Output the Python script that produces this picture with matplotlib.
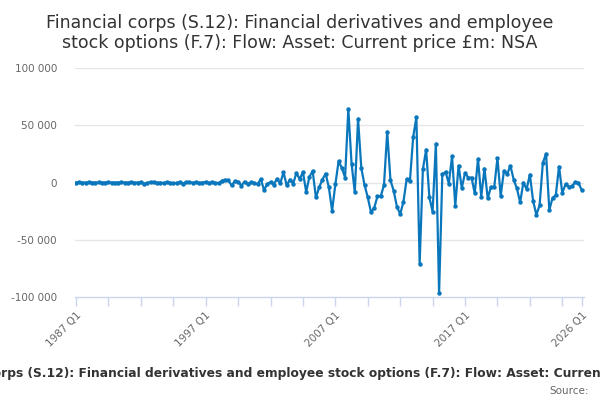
import matplotlib
matplotlib.use("Agg")
import matplotlib.pyplot as plt

#### DATA ####

title = ("Financial corps (S.12): Financial derivatives and employee\n"
         "stock options (F.7): Flow: Asset: Current price £m: NSA")
caption = ("Financial corps (S.12): Financial derivatives and employee stock options "
           "(F.7): Flow: Asset: Current price £m: NSA")

quarters = [f"{1987 + i // 4} Q{i % 4 + 1}" for i in range(157)]

values = [
    # 1987 Q1 - 1992 Q1
    0, 50, 0, -50, 50, 0, 0, 50, -50, 0, 50, 0, -50, 0, 50, 0, 0, 50, -50, 0, 100,
    # 1992 Q2 - 2003 Q2
    -1200, -300, 500, 300, -200, 0, -500, 400, -300, -800, -300, 200, -1000, 400, 300,
    -200, 200, -300, 0, 500, -400, 300, -200, -600, 1500, 2400, 1800, -2600, 1200, 800,
    -2700, 800, -1500, 300, -400, -1500, 3000, -6500, -1500, 500, -1800, 3200, -800, 8900, -2500,
    # 2003 Q3 - 2015 Q1
    2600, -900, 8300, 2900, 9200, -8200, 4900, 10100, -13000, -4300, 2600, 7800, -4300,
    -24600, -1700, 18500, 12700, 4300, 63800, 16500, -8700, 55500, 12700, -2100, -13000,
    -26000, -22000, -11900, -11900, -2300, 44200, 2000, -7300, -21200, -27500, -16800,
    2900, 1100, 39500, 56900, -70900, 11500, 28600, -13000, -25500, 33800, -96300,
    # 2015 Q2 - 2026 Q1
    7200, 9200, -900, 22800, -20300, 14700, -4700, 8300, 4300, 4300, -9500, 20500, -12500,
    12100, -13900, -3800, -4300, 21300, -11600, 10100, 7200, 14700, 2600, -5200, -17300,
    0, -5800, 6900, -16000, -28100, -19900, 17000, 25100, -24000, -13400, -11000, 13900,
    -9000, -1700, -3800, -3200, 500, -300, -6700,
]

ytick_values = [-100000, -50000, 0, 50000, 100000]
ytick_labels = ["-100 000", "-50 000", "0", "50 000", "100 000"]

#### PLOT ####

fig = plt.figure(figsize=(6, 4), dpi=100)
ax = fig.add_axes([75 / 600, 1 - 297.3 / 400, 509 / 600, 229.6 / 400])

x = list(range(len(values)))
ax.plot(x, values, color="#0a77bd", lw=1.6, marker="o", markersize=3.2,
        markeredgewidth=0, zorder=3)

ax.set_ylim(-100000, 100000)
ax.set_xlim(-0.31, 156.7)

ax.set_yticks(ytick_values)
ax.set_yticklabels(ytick_labels)
for v in ytick_values[1:]:
    ax.axhline(v, color="#e6e6e6", lw=1, zorder=1)

major = [0, 40, 80, 120, 156]
minor = [i for i in range(0, 151, 10) if i not in major]
ax.set_xticks(major)
ax.set_xticklabels([quarters[i] for i in major], rotation=45, ha="right",
                   rotation_mode="anchor")
ax.set_xticks(minor, minor=True)

ax.tick_params(axis="y", length=0, pad=13, labelsize=7.5, labelcolor="#666666")
ax.tick_params(axis="x", which="both", length=6.5, width=1, color="#ccd6eb",
               pad=3, labelsize=7.5, labelcolor="#666666")

for side in ["top", "right", "left"]:
    ax.spines[side].set_visible(False)
ax.spines["bottom"].set_color("#ccd6eb")
ax.spines["bottom"].set_linewidth(1)

fig.text(0.5, 1 - 33 / 400, title, ha="center", va="center", fontsize=12.5,
         color="#333333")
# the caption runs past both edges of the picture, as in the original
fig.text(314 / 600, 1 - 373 / 400, caption, ha="center", va="center", fontsize=8.8,
         fontweight="bold", color="#333333")
fig.text(589 / 600, 1 - 391 / 400, "Source:", ha="right", va="center",
         fontsize=7.5, color="#666666")

fig.savefig("out.png", dpi=100)
